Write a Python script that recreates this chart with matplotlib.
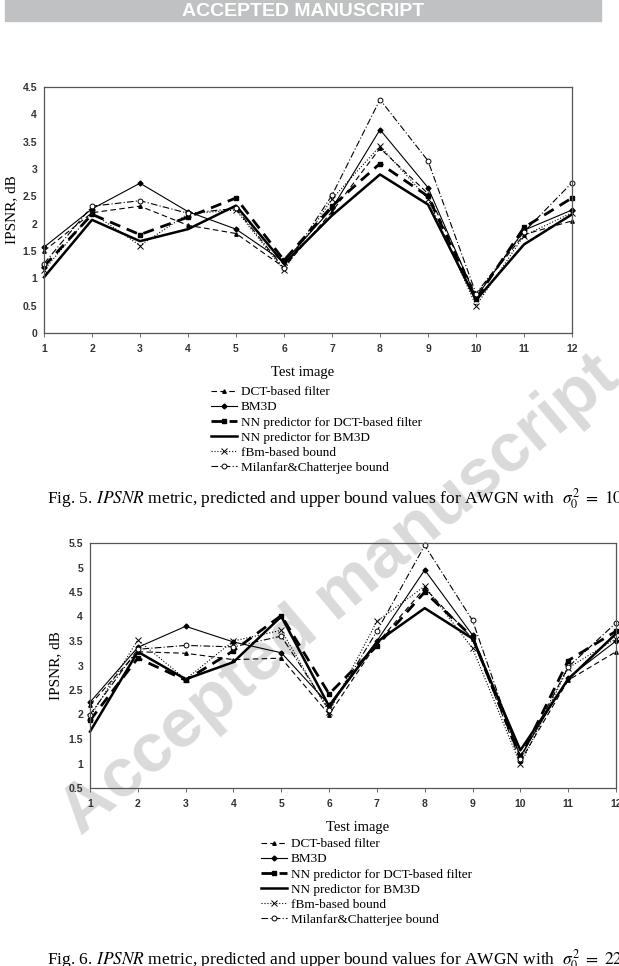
import numpy as np
import matplotlib
matplotlib.use('Agg')
import matplotlib.pyplot as plt
from matplotlib.patches import Rectangle

plt.rcParams['font.family'] = 'Liberation Serif'
plt.rcParams['mathtext.fontset'] = 'stix'

images = np.arange(1, 13)
x_ticks = [str(i) for i in images]

# Fig. 5, sigma^2 = 100
dct_100 = [1.50, 2.20, 2.32, 1.97, 1.82, 1.20, 2.22, 3.38, 2.55, 0.70, 1.80, 2.05]
bm3d_100 = [1.57, 2.27, 2.74, 2.22, 1.90, 1.30, 2.28, 3.72, 2.66, 0.65, 1.88, 2.25]
nn_dct_100 = [1.22, 2.17, 1.80, 2.12, 2.47, 1.33, 2.32, 3.10, 2.50, 0.62, 1.93, 2.47]
nn_bm3d_100 = [1.02, 2.07, 1.68, 1.90, 2.33, 1.27, 2.15, 2.90, 2.35, 0.60, 1.62, 2.17]
fbm_100 = [1.15, 2.20, 1.60, 2.18, 2.25, 1.15, 2.45, 3.42, 2.45, 0.50, 1.78, 2.20]
milanfar_100 = [1.27, 2.32, 2.42, 2.19, 2.28, 1.18, 2.52, 4.27, 3.15, 0.72, 1.85, 2.75]

# Fig. 6, sigma^2 = 225
dct_225 = [2.20, 3.28, 3.25, 3.12, 3.15, 2.00, 3.45, 4.58, 3.55, 1.05, 2.70, 3.28]
bm3d_225 = [2.25, 3.37, 3.80, 3.48, 3.26, 2.20, 3.50, 4.95, 3.62, 1.15, 2.75, 3.50]
nn_dct_225 = [1.88, 3.15, 2.70, 3.30, 4.02, 2.42, 3.40, 4.50, 3.58, 1.12, 3.10, 3.70]
nn_bm3d_225 = [1.65, 3.28, 2.72, 3.07, 4.00, 2.17, 3.48, 4.17, 3.55, 1.27, 2.72, 3.65]
fbm_225 = [1.95, 3.52, 2.72, 3.50, 3.72, 2.05, 3.90, 4.62, 3.35, 0.98, 2.95, 3.55]
milanfar_225 = [2.00, 3.33, 3.41, 3.38, 3.60, 2.10, 3.70, 5.45, 3.92, 1.10, 2.97, 3.87]

labels = ['DCT-based filter', 'BM3D', 'NN predictor for DCT-based filter',
          'NN predictor for BM3D', 'fBm-based bound', 'Milanfar&Chatterjee bound']

W, H = 619, 966
fig = plt.figure(figsize=(W / 100, H / 100), dpi=100)
fig.patch.set_facecolor('white')


def px(x0, y0, x1, y1):
    return [x0 / W, 1 - y1 / H, (x1 - x0) / W, (y1 - y0) / H]


def draw(ax, series, ylim, yticks, ylbl_x, xlbl_x):
    dct, bm3d, nn_dct, nn_bm3d, fbm, mil = series
    lines = []
    lines += ax.plot(images, dct, color='k', lw=0.8, dashes=(5, 3),
                     marker='^', ms=2.5)
    lines += ax.plot(images, bm3d, color='k', lw=0.8, marker='D', ms=2.5)
    lines += ax.plot(images, nn_dct, color='k', lw=2.0, dashes=(4, 2.5),
                     marker='s', ms=3.5)
    lines += ax.plot(images, nn_bm3d, color='k', lw=1.8)
    lines += ax.plot(images, fbm, color='k', lw=0.8, ls=':', marker='x',
                     ms=4, mew=0.7)
    lines += ax.plot(images, mil, color='k', lw=0.8, dashes=(6, 2, 1, 2),
                     marker='o', ms=3.5, mfc='white', mew=0.7)
    ax.set_xlim(1, 12)
    ax.set_ylim(*ylim)
    ax.set_xticks(images)
    ax.set_xticklabels(x_ticks)
    ax.set_yticks(yticks)
    ax.set_yticklabels([('%g' % v) for v in yticks])
    for t in ax.get_xticklabels() + ax.get_yticklabels():
        t.set_family('Liberation Sans')
        t.set_fontweight('bold')
        t.set_fontsize(7.5)
        t.set_color('#333333')
    ax.tick_params(axis='x', direction='out', length=3, width=0.6, pad=5,
                   color='#555555')
    ax.tick_params(axis='y', direction='out', length=0, pad=5)
    for s in ax.spines.values():
        s.set_color('#555555')
        s.set_linewidth(0.9)
    ax.patch.set_alpha(0)
    ax.set_ylabel('IPSNR, dB', fontsize=11)
    ax.yaxis.set_label_coords(ylbl_x, 0.5)
    ax.set_xlabel('Test image', fontsize=10.5)
    ax.xaxis.set_label_coords(xlbl_x, -0.133)
    for ln in lines:
        ln.set_clip_on(False)
    return lines


# banner
fig.patches.append(Rectangle((5 / W, 1 - 21 / H), 596 / W, 21 / H,
                             transform=fig.transFigure, color='#c0c1c2',
                             zorder=0))
fig.text(303 / W, 1 - 11 / H, 'ACCEPTED MANUSCRIPT', color='white',
         family='Liberation Sans', weight='bold', fontsize=14,
         ha='center', va='center')

# watermark
fig.text(340 / W, 1 - 595 / H, 'Accepted manuscript', color='#dadada',
         family='Liberation Sans', weight='bold', fontsize=50,
         rotation=40, ha='center', va='center', zorder=0)

ax1 = fig.add_axes(px(44, 87, 572, 333))
ax1.set_zorder(2)
l1 = draw(ax1, [dct_100, bm3d_100, nn_dct_100, nn_bm3d_100, fbm_100, milanfar_100],
          (0, 4.5), np.arange(0, 4.51, 0.5), -0.049, 0.489)

ax2 = fig.add_axes(px(90, 543, 616, 788))
ax2.set_zorder(2)
l2 = draw(ax2, [dct_225, bm3d_225, nn_dct_225, nn_bm3d_225, fbm_225, milanfar_225],
          (0.5, 5.5), np.arange(0.5, 5.51, 0.5), -0.053, 0.508)

leg_kw = dict(loc='upper left', frameon=False, fontsize=9.5, handlelength=2.0,
              handletextpad=0.25, borderpad=0, borderaxespad=0,
              labelspacing=0.22)
fig.legend(l1, labels, bbox_to_anchor=(211 / W, 1 - 386 / H), **leg_kw)
fig.legend(l2, labels, bbox_to_anchor=(261 / W, 1 - 838 / H), **leg_kw)

fig.text(47 / W, 1 - 499 / H,
         r'Fig. 5. $\it{IPSNR}$ metric, predicted and upper bound values for AWGN with  $\sigma_0^2\ =\ 100$',
         fontsize=12.5, ha='left', va='center')
fig.text(47 / W, 1 - 960 / H,
         r'Fig. 6. $\it{IPSNR}$ metric, predicted and upper bound values for AWGN with  $\sigma_0^2\ =\ 225$',
         fontsize=12.5, ha='left', va='center')

fig.savefig('out.png', dpi=100)
